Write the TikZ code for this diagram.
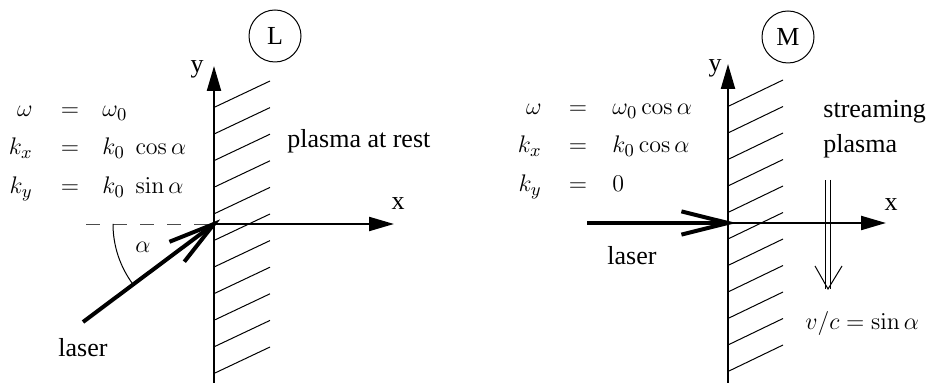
\documentclass[tikz,border=0pt]{standalone}
\usepackage[no-math]{fontspec}
\setmainfont{Liberation Serif}
\usetikzlibrary{arrows.meta,calc}
\begin{document}
\begin{tikzpicture}[x=0.5pt,y=-0.5pt,
  font=\fontsize{13}{15}\selectfont,
  axis/.style={line width=1.1pt,-{Triangle[length=12.5pt,width=7pt]}},
  hatchline/.style={line width=0.5pt},
  beam/.style={line width=2pt,line cap=butt},
  beamtip/.style={line width=2pt,line cap=butt,line join=miter},
  guide/.style={line width=0.45pt,black!70,dash pattern=on 7pt off 6.5pt},
  thin/.style={line width=0.5pt},
  lbl/.style={inner sep=0pt},
  tag/.style={draw,circle,minimum size=26pt,inner sep=0pt,line width=0.5pt},
  ]
\path[use as bounding box] (0,0) rectangle (940,383);

% ---------------- left panel (L) ----------------
\coordinate (O1) at (214,224);
\coordinate (yb1) at (214,383);
\coordinate (yt1) at (214,66);
\coordinate (xt1) at (394,224);
\coordinate (dl1) at (86,224);
\coordinate (L1) at (83,322);
\coordinate (arcs1) at (113,224);

\foreach \i in {0,...,10}
  \draw[hatchline] (215,{81+26.6*\i+26}) -- (270,{81+26.6*\i});

\draw[guide] (dl1) -- (O1);
\draw[thin] (arcs1) arc[start angle=180,end angle=216.8,radius=50.5pt];

\draw[axis] (yb1) -- (yt1);
\draw[axis] (O1) -- (xt1);

\draw[beam] (L1) -- (O1);
\draw[beamtip] ($(O1)!24pt!15:(L1)$) -- (O1) -- ($(O1)!24pt!-15:(L1)$);

\node[tag] (cL) at (275,36) {L};
\node[lbl] (ylab1) at (197,69) {y};
\node[lbl] (xlab1) at (398,204) {x};
\node[lbl,anchor=base west] (rest) at (287,148) {plasma at rest};
\node[lbl,anchor=base west] (laser1) at (58,357) {laser};
\node[lbl] (alpha1) at (143,247) {$\alpha$};

\node[lbl,anchor=base east] (w1) at (33,117) {$\omega$};
\node[lbl,anchor=base] (e1) at (70,117) {$=$};
\node[lbl,anchor=base west] (r1) at (102,117) {$\omega_0$};
\node[lbl,anchor=base east] (kx1) at (33,155) {$k_x$};
\node[lbl,anchor=base] (e2) at (70,155) {$=$};
\node[lbl,anchor=base west] (r2) at (102,155) {$k_0\;\cos\alpha$};
\node[lbl,anchor=base east] (ky1) at (33,194) {$k_y$};
\node[lbl,anchor=base] (e3) at (70,194) {$=$};
\node[lbl,anchor=base west] (r3) at (102,194) {$k_0\;\sin\alpha$};

% ---------------- right panel (M) ----------------
\coordinate (O2) at (728,223);
\coordinate (yb2) at (728,383);
\coordinate (yt2) at (728,64);
\coordinate (xt2) at (886,223);
\coordinate (L2) at (587,223);
\coordinate (S1) at (828,180);
\coordinate (S2) at (828,289);
\coordinate (Sa) at (815,266);
\coordinate (Sb) at (842,266);

\foreach \i in {0,...,10}
  \draw[hatchline] (729,{80+26.5*\i+26}) -- (783,{80+26.5*\i});

\draw[thin,double,double distance=2pt] (S1) -- (S2);
\draw[thin] (Sa) -- (S2) -- (Sb);

\draw[axis] (yb2) -- (yt2);
\draw[axis] (O2) -- (xt2);

\draw[beam] (L2) -- (O2);
\draw[beamtip] ($(O2)!24pt!14:(L2)$) -- (O2) -- ($(O2)!24pt!-14:(L2)$);

\node[tag] (cM) at (788,37) {M};
\node[lbl] (ylab2) at (715,68) {y};
\node[lbl] (xlab2) at (891,205) {x};
\node[lbl,anchor=base west] (strm) at (823,118) {streaming};
\node[lbl,anchor=base west] (plas) at (823,153) {plasma};
\node[lbl,anchor=base west] (laser2) at (607,265) {laser};
\node[lbl,anchor=base west] (vc) at (805,330) {$v/c=\sin\alpha$};

\node[lbl,anchor=base east] (w2) at (542,115) {$\omega$};
\node[lbl,anchor=base] (f1) at (578,115) {$=$};
\node[lbl,anchor=base west] (s1) at (612,115) {$\omega_0\cos\alpha$};
\node[lbl,anchor=base east] (kx2) at (542,153) {$k_x$};
\node[lbl,anchor=base] (f2) at (578,153) {$=$};
\node[lbl,anchor=base west] (s2) at (612,153) {$k_0\cos\alpha$};
\node[lbl,anchor=base east] (ky2) at (542,192) {$k_y$};
\node[lbl,anchor=base] (f3) at (578,192) {$=$};
\node[lbl,anchor=base west] (s3) at (612,192) {$0$};
\end{tikzpicture}
\end{document}
